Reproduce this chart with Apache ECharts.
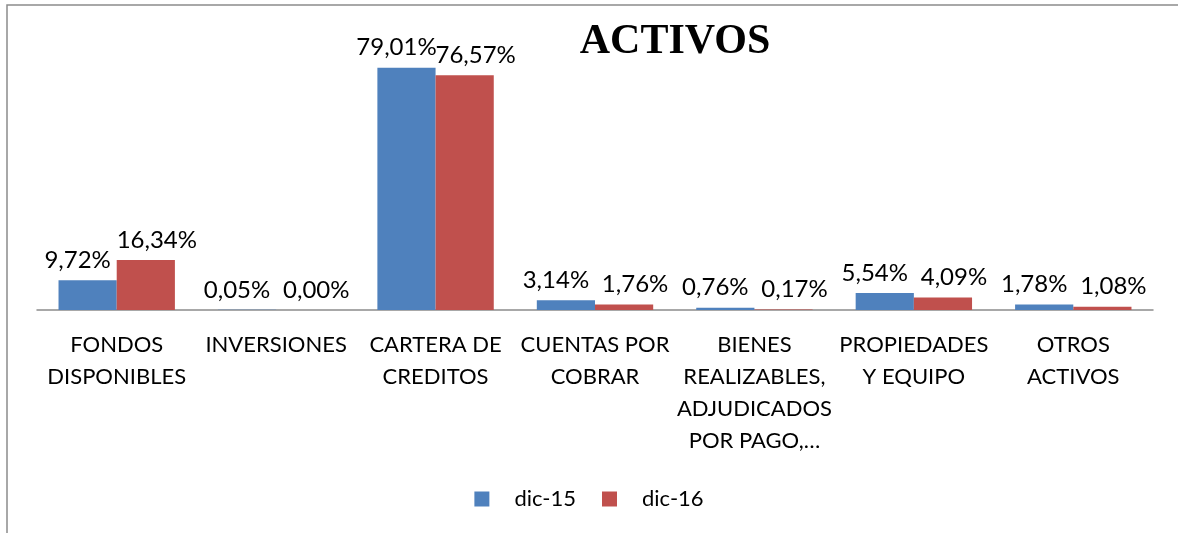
<!DOCTYPE html>
<html>
<head>
<meta charset="utf-8">
<script src="https://cdn.jsdelivr.net/npm/echarts@6/dist/echarts.min.js"></script>
<style>
html,body{margin:0;padding:0;background:#fff;}
#chart{width:1178px;height:533px;}
</style>
</head>
<body>
<div id="chart"></div>
<script>
const categories = [
  "FONDOS\nDISPONIBLES",
  "INVERSIONES",
  "CARTERA DE\nCREDITOS",
  "CUENTAS POR\nCOBRAR",
  "BIENES\nREALIZABLES,\nADJUDICADOS\nPOR PAGO,…",
  "PROPIEDADES\nY EQUIPO",
  "OTROS\nACTIVOS"
];
const seriesNames = ["dic-15", "dic-16"];
const dic15 = [9.72, 0.05, 79.01, 3.14, 0.76, 5.54, 1.78];
const dic16 = [16.34, 0.00, 76.57, 1.76, 0.17, 4.09, 1.08];
const titleText = "ACTIVOS";

const FONT = "Lato, 'Liberation Sans', sans-serif";
const chart = echarts.init(document.getElementById('chart'));
const fmt = v => v.toFixed(2).replace('.', ',') + '%';
function labelCfg(dx) {
  return {
    show: true, position: 'top', distance: 8, offset: [dx, 0],
    fontFamily: FONT, fontSize: 24, color: '#000',
    formatter: p => fmt(p.value)
  };
}
chart.setOption({
  animation: false,
  backgroundColor: '#fff',
  title: {
    text: titleText,
    left: 670, top: 16, textAlign: 'center',
    textStyle: { fontFamily: "'Liberation Serif', 'Times New Roman', serif", fontWeight: 'bold', fontSize: 42, color: '#000' }
  },
  graphic: [{
    type: 'rect', silent: true, z: -1,
    shape: { x: 7, y: 5, width: 1300, height: 700 },
    style: { fill: 'none', stroke: '#8c8c8c', lineWidth: 1.5 }
  }],
  legend: {
    data: seriesNames,
    bottom: 18, left: 'center',
    itemWidth: 15, itemHeight: 15, itemGap: 26,
    icon: 'rect',
    textStyle: { fontFamily: FONT, fontSize: 22, color: '#000', padding: [0, 0, 0, 20] }
  },
  grid: { left: 37, right: 25, top: 34, bottom: 223 },
  xAxis: {
    type: 'category', data: categories,
    axisLine: { lineStyle: { color: '#8c8c8c', width: 1.5 } },
    axisTick: { show: false },
    axisLabel: { interval: 0, margin: 19, fontFamily: FONT, fontSize: 22, lineHeight: 32, color: '#000' }
  },
  yAxis: {
    type: 'value', min: 0, max: 90,
    show: false
  },
  series: [
    { name: seriesNames[0], type: 'bar', data: dic15, barGap: '0%', barCategoryGap: '27%',
      itemStyle: { color: '#4F81BD' }, label: labelCfg(-10) },
    { name: seriesNames[1], type: 'bar', data: dic16, barGap: '0%', barCategoryGap: '27%',
      itemStyle: { color: '#C0504D' }, label: labelCfg(11) }
  ]
});
</script>
</body>
</html>
